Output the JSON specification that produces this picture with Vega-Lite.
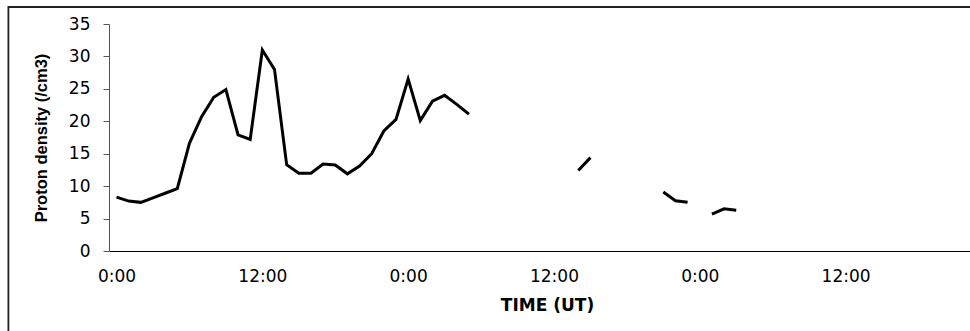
{
  "$schema": "https://vega.github.io/schema/vega-lite/v6.json",
  "width": 861,
  "height": 227,
  "autosize": {"type": "none"},
  "padding": {"left": 109, "top": 24, "right": 0, "bottom": 80},
  "background": "white",
  "config": {"view": {"stroke": null}, "font": "Liberation Sans"},
  "data": {
    "values": [
      {"hour": 0, "density": 8.3, "segment": 1},
      {"hour": 1, "density": 7.7, "segment": 1},
      {"hour": 2, "density": 7.5, "segment": 1},
      {"hour": 3, "density": 8.2, "segment": 1},
      {"hour": 4, "density": 8.9, "segment": 1},
      {"hour": 5, "density": 9.6, "segment": 1},
      {"hour": 6, "density": 16.6, "segment": 1},
      {"hour": 7, "density": 20.7, "segment": 1},
      {"hour": 8, "density": 23.7, "segment": 1},
      {"hour": 9, "density": 24.9, "segment": 1},
      {"hour": 10, "density": 17.9, "segment": 1},
      {"hour": 11, "density": 17.2, "segment": 1},
      {"hour": 12, "density": 31.0, "segment": 1},
      {"hour": 13, "density": 28.0, "segment": 1},
      {"hour": 14, "density": 13.3, "segment": 1},
      {"hour": 15, "density": 12.0, "segment": 1},
      {"hour": 16, "density": 12.0, "segment": 1},
      {"hour": 17, "density": 13.4, "segment": 1},
      {"hour": 18, "density": 13.25, "segment": 1},
      {"hour": 19, "density": 11.9, "segment": 1},
      {"hour": 20, "density": 13.1, "segment": 1},
      {"hour": 21, "density": 15.0, "segment": 1},
      {"hour": 22, "density": 18.5, "segment": 1},
      {"hour": 23, "density": 20.3, "segment": 1},
      {"hour": 24, "density": 26.5, "segment": 1},
      {"hour": 25, "density": 20.1, "segment": 1},
      {"hour": 26, "density": 23.1, "segment": 1},
      {"hour": 27, "density": 24.0, "segment": 1},
      {"hour": 28, "density": 22.6, "segment": 1},
      {"hour": 29, "density": 21.1, "segment": 1},
      {"hour": 38, "density": 12.4, "segment": 2},
      {"hour": 39, "density": 14.4, "segment": 2},
      {"hour": 45, "density": 9.1, "segment": 3},
      {"hour": 46, "density": 7.75, "segment": 3},
      {"hour": 47, "density": 7.5, "segment": 3},
      {"hour": 49, "density": 5.7, "segment": 4},
      {"hour": 50, "density": 6.5, "segment": 4},
      {"hour": 51, "density": 6.3, "segment": 4}
    ]
  },
  "resolve": {"axis": {"x": "independent", "y": "independent"}},
  "layer": [
    {
      "mark": {"type": "line", "color": "black", "strokeWidth": 3},
      "encoding": {
        "x": {
          "field": "hour",
          "type": "quantitative",
          "scale": {"domain": [-0.62, 70.24], "nice": false, "zero": false},
          "axis": {
            "title": "TIME (UT)",
            "titleFont": "DejaVu Sans",
            "titleFontWeight": "bold",
            "titleFontSize": 17,
            "titleColor": "black",
            "titleX": 438,
            "titlePadding": 13,
            "values": [0, 12, 24, 36, 48, 60],
            "labelExpr": "(datum.value % 24) + ':00'",
            "ticks": false,
            "tickSize": 0,
            "labelFont": "DejaVu Sans",
            "labelFontSize": 17,
            "labelColor": "black",
            "labelPadding": 17,
            "labelFlush": false,
            "labelOverlap": false,
            "domainColor": "black",
            "domainWidth": 1.2,
            "grid": false
          }
        },
        "y": {
          "field": "density",
          "type": "quantitative",
          "scale": {"domain": [0, 35]},
          "axis": {
            "title": "Proton density (/cm3)",
            "titleFont": "Liberation Sans",
            "titleFontWeight": "bold",
            "titleFontSize": 16.5,
            "titleColor": "black",
            "titleX": -68,
            "titleBaseline": "middle",
            "values": [0, 5, 10, 15, 20, 25, 30, 35],
            "tickSize": 6,
            "tickColor": "#555555",
            "domainColor": "#555555",
            "labelFont": "DejaVu Sans",
            "labelFontSize": 17,
            "labelColor": "black",
            "labelPadding": 13,
            "labelOverlap": false,
            "grid": false
          }
        },
        "detail": {"field": "segment", "type": "nominal"}
      }
    },
    {
      "data": {"values": [{"frame": "chart area"}]},
      "mark": {"type": "rect", "fill": "transparent", "stroke": "#222222", "strokeWidth": 1.8},
      "encoding": {
        "x": {"datum": -8.9, "type": "quantitative", "axis": null},
        "x2": {"datum": 90},
        "y": {"datum": 37.62, "type": "quantitative", "axis": null},
        "y2": {"datum": -15}
      }
    }
  ]
}
